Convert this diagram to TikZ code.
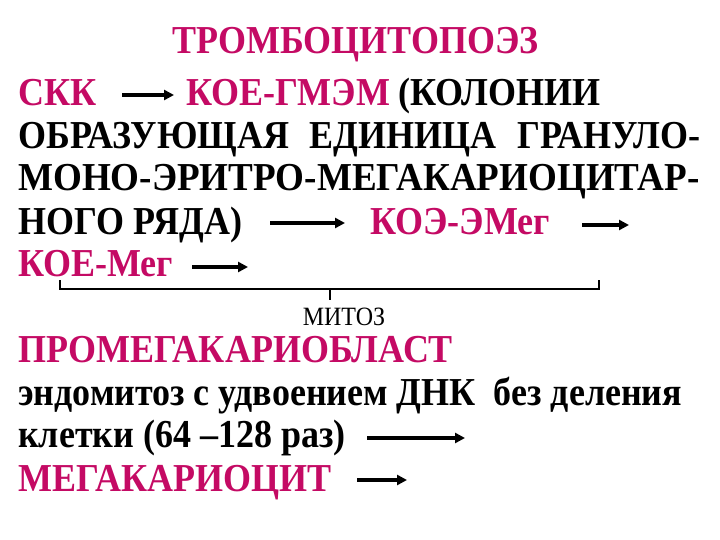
\documentclass[tikz,border=0pt]{standalone}
\usepackage{graphicx}
\usepackage{fontspec}
\setmainfont{Liberation Serif}[BoldFont={Liberation Serif Bold},ItalicFont={Liberation Serif Italic},BoldItalicFont={Liberation Serif Bold Italic}]
\usetikzlibrary{arrows.meta}
\definecolor{mag}{RGB}{196,10,100}
\newcommand{\tallt}[1]{\scalebox{1}[1.1]{#1}}
\tikzset{
  txt/.style={anchor=base west,inner sep=0pt,font=\fontsize{36}{36}\selectfont\bfseries},
  mtxt/.style={txt,text=mag},
  arr/.style={line width=3.4pt,-{Triangle[length=10pt,width=10pt]}},
  brk/.style={line width=1.3pt}
}
\begin{document}
\begin{tikzpicture}[x=1pt,y=-1pt]
\useasboundingbox (0,0) rectangle (720,540);
\node[mtxt] (title) at (172,54) {\tallt{ТРОМБОЦИТОПОЭЗ}};
\node[mtxt] (skk) at (18,106) {\tallt{СКК}};
\node[mtxt] (gmem) at (186,106) {\tallt{КОЕ-ГМЭМ}};
\node[txt] (kol) at (398,106) {\tallt{(КОЛОНИИ}};
\node[txt] (l3) at (18,149) {\tallt{\makebox[682pt][s]{ОБРАЗУЮЩАЯ ЕДИНИЦА ГРАНУЛО-}}};
\node[txt] (l4) at (18,191) {\scalebox{1.03}[1.1]{МОНО-ЭРИТРО-МЕГАКАРИОЦИТАР-}};
\node[txt] (l5) at (18,234) {\tallt{НОГО РЯДА)}};
\node[mtxt] (emeg) at (370,234) {\tallt{КОЭ-ЭМег}};
\node[mtxt] (meg) at (18,276) {\tallt{КОЕ-Мег}};
\node[anchor=base,inner sep=0pt,font=\fontsize{24}{24}\selectfont] (mitoz) at (344,325) {\tallt{МИТОЗ}};
\node[mtxt] (promeg) at (18,362) {\tallt{ПРОМЕГАКАРИОБЛАСТ}};
\node[txt] (endo) at (18,405) {\tallt{эндомитоз с удвоением ДНК\ \ без деления}};
\node[txt] (klet) at (18,447) {\tallt{клетки (64 –128 раз)}};
\node[mtxt] (megac) at (18,491) {\tallt{МЕГАКАРИОЦИТ}};

\coordinate (a1s) at (122,95); \coordinate (a1e) at (174,95);
\coordinate (a2s) at (270,223); \coordinate (a2e) at (345,223);
\coordinate (a3s) at (582,225); \coordinate (a3e) at (629,225);
\coordinate (a4s) at (192,267); \coordinate (a4e) at (248,267);
\coordinate (a5s) at (367,438); \coordinate (a5e) at (465,438);
\coordinate (a6s) at (357,480); \coordinate (a6e) at (407,480);
\draw[arr] (a1s) -- (a1e);
\draw[arr] (a2s) -- (a2e);
\draw[arr] (a3s) -- (a3e);
\draw[arr] (a4s) -- (a4e);
\draw[arr] (a5s) -- (a5e);
\draw[arr] (a6s) -- (a6e);

\coordinate (bl) at (60,280); \coordinate (br) at (599,280);
\coordinate (bm) at (330,289);
\draw[brk] (bl) |- (br |- bm) -- (br);
\draw[brk] (bm) -- ++(0,11);
\end{tikzpicture}
\end{document}
